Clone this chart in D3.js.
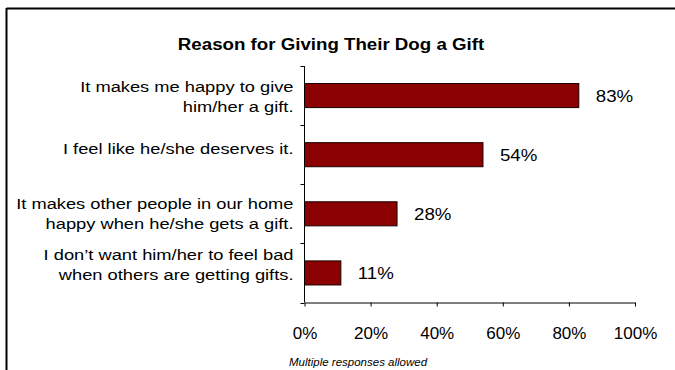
<!DOCTYPE html>
<html>
<head>
<meta charset="utf-8">
<script src="https://cdn.jsdelivr.net/npm/d3@7"></script>
<style>
  html, body { margin: 0; padding: 0; background: #fff; }
  svg { display: block; font-family: Arial, "Liberation Sans", sans-serif; }
</style>
</head>
<body>
<svg id="chart" width="675" height="370"></svg>
<script>
// Survey results: why owners give their dog a gift
const categories = [
  ["It makes me happy to give", "him/her a gift."],
  ["I feel like he/she deserves it."],
  ["It makes other people in our home", "happy when he/she gets a gift."],
  ["I don\u2019t want him/her to feel bad", "when others are getting gifts."]
];
const values = [83, 54, 28, 11];
const tickValues = [0, 20, 40, 60, 80, 100];
const chartTitle = "Reason for Giving Their Dog a Gift";
const footnote = "Multiple responses allowed";

const svg = d3.select("#chart");
const margin = { left: 304.5, top: 66 };

// Outer frame (top and left edges)
svg.append("line").attr("x1", 6.5).attr("x2", 675).attr("y1", 8.5).attr("y2", 8.5)
  .attr("stroke", "#000").attr("stroke-width", 2);
svg.append("line").attr("x1", 6.5).attr("x2", 6.5).attr("y1", 8).attr("y2", 370)
  .attr("stroke", "#000").attr("stroke-width", 2);

const x = d3.scaleLinear().domain([0, 100]).range([margin.left, 635]);
const idx = d3.range(categories.length);
const y = d3.scaleBand().domain(idx).range([margin.top, 302.5])
  .paddingInner(0.593).paddingOuter(0.2965);

// Title (slightly wide lettering)
svg.append("text")
  .attr("transform", "translate(331,49.5) scale(1.1,1)")
  .attr("text-anchor", "middle").attr("font-weight", "bold")
  .attr("font-size", 17).attr("fill", "#000").text(chartTitle);

// Bars
svg.append("g").selectAll("rect").data(idx).join("rect")
  .attr("x", x(0))
  .attr("y", i => y(i))
  .attr("width", i => x(values[i]) - x(0))
  .attr("height", y.bandwidth())
  .attr("fill", "#8b0000")
  .attr("stroke", "#1a0000").attr("stroke-width", 1);

// Value labels
svg.append("g").selectAll("text").data(idx).join("text")
  .attr("transform", i =>
    `translate(${x(values[i]) + 17},${y(i) + y.bandwidth() / 2 + 6.5}) scale(1.1,1)`)
  .attr("font-size", 17).attr("fill", "#000")
  .text(i => values[i] + "%");

// Y axis: line plus category ticks at band boundaries
const yAxis = svg.append("g").attr("stroke", "#000").attr("stroke-width", 1);
yAxis.append("line").attr("x1", x(0)).attr("x2", x(0))
  .attr("y1", margin.top).attr("y2", 302.5);
const bounds = idx.map(i => y(i) - y.step() * y.paddingInner() / 2).concat([302.5]);
yAxis.selectAll("line.tick").data(bounds).join("line").attr("class", "tick")
  .attr("x1", x(0) - 4).attr("x2", x(0))
  .attr("y1", d => Math.round(d) + 0.5).attr("y2", d => Math.round(d) + 0.5);

// Category labels, right aligned and wrapped; small per-label vertical nudges
const lineH = 20;
const labelNudge = [4.5, -3, 3, -4.5];
const catG = svg.append("g").attr("font-size", 15.5).attr("fill", "#000")
  .attr("text-anchor", "end");
idx.forEach(i => {
  const lines = categories[i];
  const cy = y(i) + y.bandwidth() / 2 + labelNudge[i];
  const first = cy - (lines.length - 1) * lineH / 2 + 2;
  const t = catG.append("text")
    .attr("transform", `translate(293.5,${first}) scale(1.18,1)`);
  lines.forEach((ln, k) => {
    t.append("tspan").attr("x", 0).attr("y", k * lineH).text(ln);
  });
});

// X axis
const xAxis = d3.axisBottom(x).tickValues(tickValues)
  .tickFormat(d => d + "%").tickSize(4).tickSizeOuter(0).tickPadding(20);
const gx = svg.append("g").attr("transform", "translate(0,302.5)").call(xAxis);
gx.select(".domain").attr("stroke", "#000");
gx.selectAll(".tick line").attr("stroke", "#000");
gx.selectAll(".tick text").attr("font-size", 17).attr("fill", "#000")
  .attr("font-family", "Arial, 'Liberation Sans', sans-serif");

// Footnote
svg.append("text").attr("x", 289).attr("y", 366)
  .attr("font-size", 11.5).attr("font-style", "italic").attr("fill", "#000")
  .text(footnote);
</script>
</body>
</html>
